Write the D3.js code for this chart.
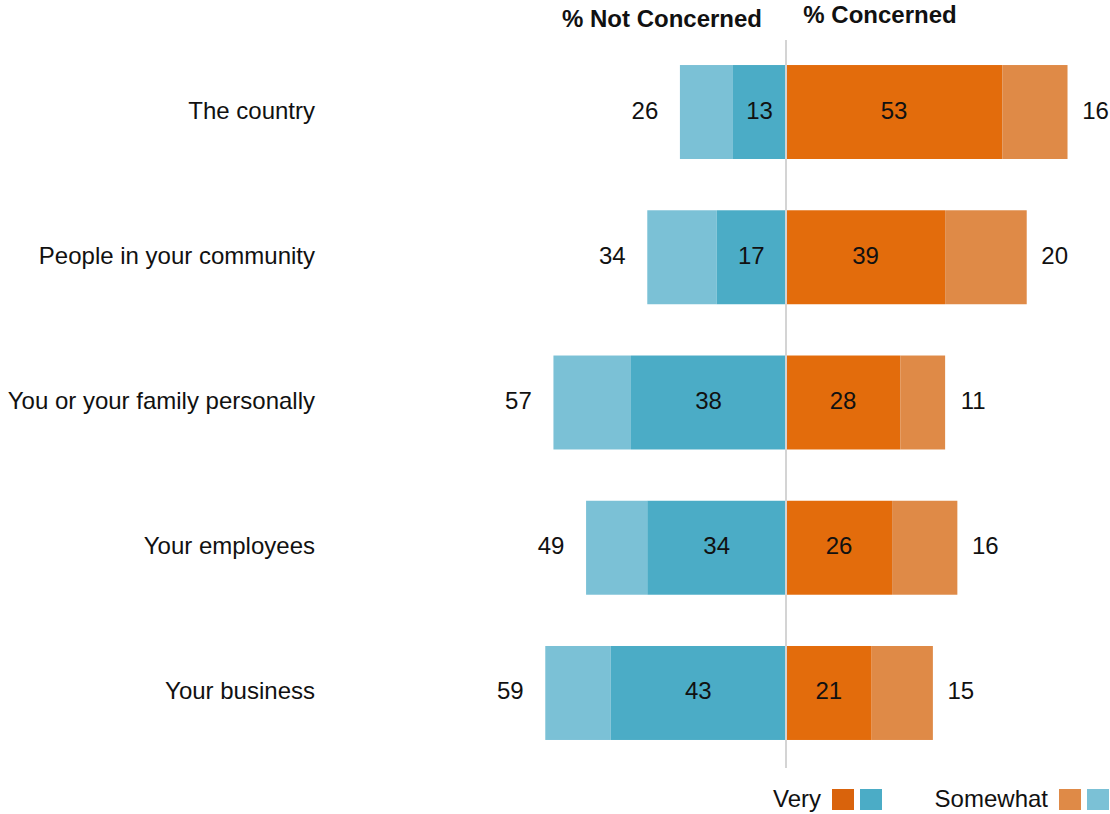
<!DOCTYPE html>
<html>
<head>
<meta charset="utf-8">
<script src="https://cdn.jsdelivr.net/npm/d3@7"></script>
<style>
  body { margin: 0; background: #fff; }
  svg { font-family: "Liberation Sans", Arial, sans-serif; }
</style>
</head>
<body>
<svg id="chart" width="1110" height="814"></svg>
<script>
const categories = ["The country", "People in your community", "You or your family personally", "Your employees", "Your business"];
const concernedVery = [53, 39, 28, 26, 21];
const concernedSomewhat = [16, 20, 11, 16, 15];
const notConcernedVery = [13, 17, 38, 34, 43];
const notConcernedSomewhat = [13, 17, 19, 15, 16];

const colors = {
    concVery: "#e36c0c",
    concSome: "#df8a47",
    notVery: "#4bacc6",
    notSome: "#7bc1d6"
};

const svg = d3.select("#chart");
const center = 786;
const unit = 4.08;

const x = d3.scaleLinear()
    .domain([-60, 70])
    .range([center - 60 * unit, center + 70 * unit]);

const y = d3.scaleBand()
    .domain(categories)
    .range([39.4, 765.6])
    .paddingInner(0.353)
    .paddingOuter(0.1765);

const rows = categories.map((c, i) => ({
    cat: c,
    cv: concernedVery[i],
    cs: concernedSomewhat[i],
    nv: notConcernedVery[i],
    ns: notConcernedSomewhat[i]
}));

const g = svg.append("g");

const row = g.selectAll(".row")
    .data(rows)
    .enter()
    .append("g")
    .attr("class", "row");

// not concerned: somewhat (outer), very (inner)
row.append("rect")
    .attr("x", d => x(-(d.nv + d.ns)))
    .attr("y", d => y(d.cat))
    .attr("width", d => x(-d.nv) - x(-(d.nv + d.ns)))
    .attr("height", y.bandwidth())
    .attr("fill", colors.notSome);

row.append("rect")
    .attr("x", d => x(-d.nv))
    .attr("y", d => y(d.cat))
    .attr("width", d => x(0) - x(-d.nv))
    .attr("height", y.bandwidth())
    .attr("fill", colors.notVery);

row.append("rect")
    .attr("x", x(0))
    .attr("y", d => y(d.cat))
    .attr("width", d => x(d.cv) - x(0))
    .attr("height", y.bandwidth())
    .attr("fill", colors.concVery);

row.append("rect")
    .attr("x", d => x(d.cv))
    .attr("y", d => y(d.cat))
    .attr("width", d => x(d.cv + d.cs) - x(d.cv))
    .attr("height", y.bandwidth())
    .attr("fill", colors.concSome);

const mid = d => y(d.cat) + y.bandwidth() / 2;

const label = (sel, xf, txt, anchor) => sel.append("text")
    .attr("x", xf)
    .attr("y", mid)
    .attr("dy", "0.27em")
    .attr("text-anchor", anchor)
    .attr("font-size", 24)
    .attr("fill", "#111")
    .text(txt);

label(row, d => (x(-d.nv) + x(0)) / 2, d => d.nv, "middle");
label(row, d => (x(0) + x(d.cv)) / 2, d => d.cv, "middle");
label(row, d => x(-(d.nv + d.ns)) - 35, d => d.nv + d.ns, "middle");
label(row, d => x(d.cv + d.cs) + 28, d => d.cs, "middle");

// category labels
row.append("text")
    .attr("x", 315)
    .attr("y", mid)
    .attr("dy", "0.27em")
    .attr("text-anchor", "end")
    .attr("font-size", 24)
    .attr("fill", "#111")
    .text(d => d.cat);

// zero line
g.append("line")
    .attr("x1", x(0)).attr("x2", x(0))
    .attr("y1", 40).attr("y2", 768)
    .attr("stroke", "#d4d4d4")
    .attr("stroke-width", 2);

// headers
svg.append("text")
    .attr("x", 662).attr("y", 27)
    .attr("text-anchor", "middle")
    .attr("font-size", 24).attr("font-weight", "bold")
    .attr("fill", "#111")
    .text("% Not Concerned");

svg.append("text")
    .attr("x", 880).attr("y", 23)
    .attr("text-anchor", "middle")
    .attr("font-size", 24).attr("font-weight", "bold")
    .attr("fill", "#111")
    .text("% Concerned");

// legend
const legend = [
    { name: "Very", textEnd: 821, sx: 832, fills: ["#d9630c", colors.notVery] },
    { name: "Somewhat", textEnd: 1048, sx: 1059, fills: ["#df8a47", colors.notSome] }
];
legend.forEach(l => {
    svg.append("text")
        .attr("x", l.textEnd).attr("y", 807)
        .attr("text-anchor", "end")
        .attr("font-size", 24)
        .attr("fill", "#111")
        .text(l.name);
    l.fills.forEach((f, i) => {
        svg.append("rect")
            .attr("x", l.sx + i * 28).attr("y", 789)
            .attr("width", 22).attr("height", 21)
            .attr("fill", f);
    });
});
</script>
</body>
</html>
